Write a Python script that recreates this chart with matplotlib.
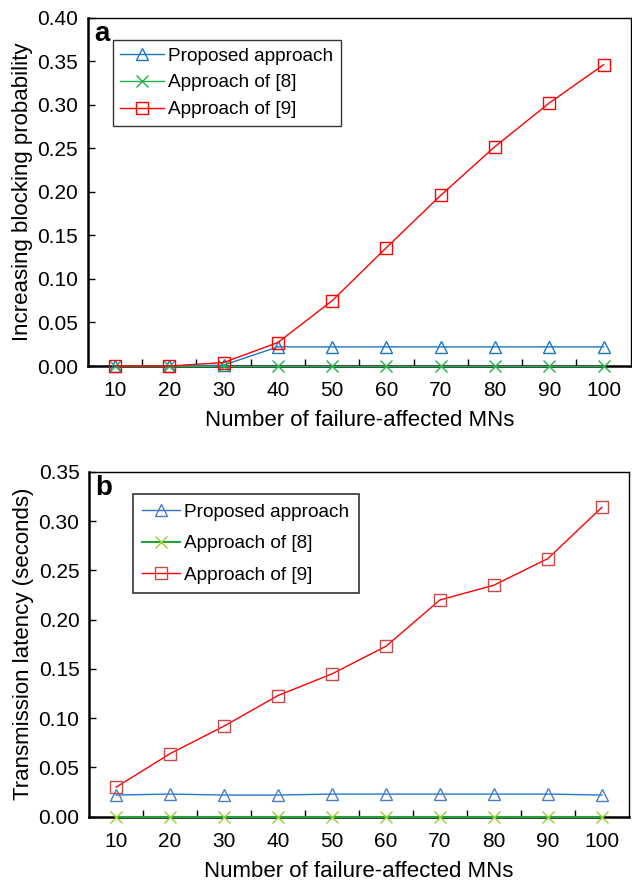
import matplotlib
matplotlib.use("Agg")
import matplotlib.pyplot as plt
from matplotlib.ticker import MultipleLocator, FormatStrFormatter

plt.rcParams['font.family'] = ['Liberation Sans', 'DejaVu Sans']

# Dati
mns = [10, 20, 30, 40, 50, 60, 70, 80, 90, 100]

block_proposed = [0.0, 0.0, 0.001, 0.022, 0.022, 0.022, 0.022, 0.022, 0.022, 0.022]
block_ref8 = [0.0, 0.0, 0.0, 0.0, 0.0, 0.0, 0.0, 0.0, 0.0, 0.0]
block_ref9 = [0.0, 0.0, 0.004, 0.027, 0.075, 0.136, 0.196, 0.252, 0.302, 0.346]

lat_proposed = [0.022, 0.023, 0.022, 0.022, 0.023, 0.023, 0.023, 0.023, 0.023, 0.022]
lat_ref8 = [0.0, 0.0, 0.0, 0.0, 0.0, 0.0, 0.0, 0.0, 0.0, 0.0]
lat_ref9 = [0.030, 0.064, 0.092, 0.123, 0.145, 0.173, 0.220, 0.235, 0.262, 0.314]

labels = ["Proposed approach", "Approach of [8]", "Approach of [9]"]

fig = plt.figure(figsize=(6.32, 8.82), dpi=100)
ax_a = fig.add_axes([0.139, 0.585, 0.859, 0.395])
ax_b = fig.add_axes([0.141, 0.074, 0.854, 0.391])


def style_axis(ax, ymax, ylabel, letter):
    ax.set_xlim(5, 105)
    ax.set_ylim(0, ymax)
    ax.set_xticks(mns)
    ax.set_xticks([15, 25, 35, 45, 55, 65, 75, 85, 95], minor=True)
    ax.yaxis.set_major_locator(MultipleLocator(0.05))
    ax.yaxis.set_major_formatter(FormatStrFormatter('%.2f'))
    ax.tick_params(axis='x', which='major', length=0, labelsize=15, pad=11)
    ax.tick_params(axis='x', which='minor', direction='in', length=5, width=1)
    ax.tick_params(axis='y', which='major', direction='in', length=5, width=1,
                   labelsize=15, pad=7)
    for s in ax.spines.values():
        s.set_linewidth(1.0)
    ax.spines['bottom'].set_linewidth(1.8)
    ax.spines['left'].set_linewidth(1.8)
    ax.set_xlabel("Number of failure-affected MNs", fontsize=16, labelpad=7)
    ax.set_ylabel(ylabel, fontsize=16, labelpad=3)
    ax.text(0.012, 0.99, letter, transform=ax.transAxes, fontsize=20,
            fontweight='bold', va='top', ha='left')


# Pannello a
ax_a.plot(mns, block_proposed, color='#1f77c4', lw=1.0, marker='^', ms=8,
          mfc='none', mec='#1f77c4', label=labels[0], clip_on=False, zorder=3)
ax_a.plot(mns, block_ref8, color='#22b14c', lw=1.0, marker='x', ms=8,
          mec='#22b14c', label=labels[1], clip_on=False, zorder=3)
ax_a.plot(mns, block_ref9, color='#ff0000', lw=1.0, marker='s', ms=8,
          mfc='none', mec='#ff0000', label=labels[2], clip_on=False, zorder=4)
style_axis(ax_a, 0.40, "Increasing blocking probability", "a")
leg = ax_a.legend(loc='upper left', bbox_to_anchor=(0.046, 0.937), fontsize=13.7,
                  frameon=True, fancybox=False, edgecolor='black',
                  handlelength=2.3, handletextpad=0.2, borderpad=0.4,
                  labelspacing=0.5, borderaxespad=0)
leg.get_frame().set_linewidth(1.0)

# Pannello b
ax_b.plot(mns, lat_proposed, color='#2a78c8', lw=1.0, marker='^', ms=8,
          mfc='none', mec='#4a7fc1', label=labels[0], clip_on=False, zorder=3)
ax_b.plot(mns, lat_ref8, color='#1fa33a', lw=1.5, marker='x', ms=8,
          mec='#9acd32', label=labels[1], clip_on=False, zorder=3)
ax_b.plot(mns, lat_ref9, color='#ff0000', lw=1.0, marker='s', ms=8,
          mfc='none', mec='#c94848', label=labels[2], clip_on=False, zorder=4)
style_axis(ax_b, 0.35, "Transmission latency (seconds)", "b")
leg = ax_b.legend(loc='upper left', bbox_to_anchor=(0.081, 0.936), fontsize=13.7,
                  frameon=True, fancybox=False, edgecolor='black',
                  handlelength=2.0, handletextpad=0.2, borderpad=0.5,
                  labelspacing=0.75, borderaxespad=0)
leg.get_frame().set_linewidth(1.2)

fig.savefig("out.png", dpi=100)
